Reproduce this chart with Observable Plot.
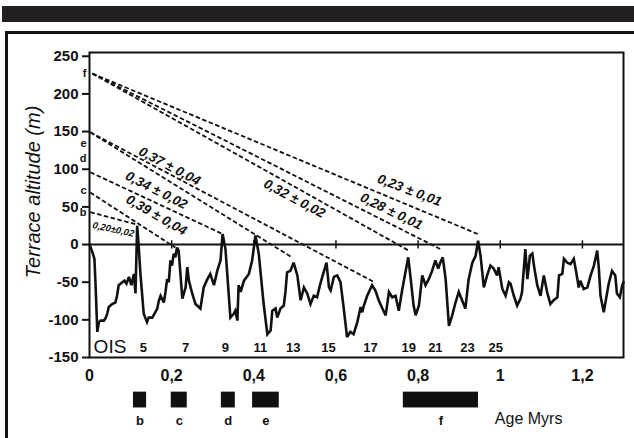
<!DOCTYPE html>
<html><head><meta charset="utf-8">
<script src="https://cdn.jsdelivr.net/npm/d3@7"></script>
<script src="https://cdn.jsdelivr.net/npm/@observablehq/plot@0.6"></script>
<style>
html,body{margin:0;padding:0;background:#fff;}
#wrap{position:relative;width:634px;height:438px;overflow:hidden;background:#fff;}
#bar{position:absolute;left:2px;top:6px;width:632px;height:16px;background:#231f20;}
#box{position:absolute;left:5px;top:31px;width:700px;height:500px;border-left:3px solid #111;border-top:3px solid #111;}
#chart{position:absolute;left:0;top:0;}
</style></head>
<body><div id="wrap"><div id="bar"></div><div id="box"></div><div id="chart"></div></div>
<script>
// Sea-level curve (age in Myr, level in m)
const seaT = [0,0.007,0.012,0.015,0.019,0.023,0.027,0.035,0.039,0.043,0.047,0.055,0.063,0.067,0.071,0.080,0.085,0.090,0.096,0.102,0.108,0.112,0.116,0.120,0.124,0.132,0.140,0.144,0.153,0.165,0.169,0.173,0.181,0.185,0.189,0.193,0.197,0.201,0.205,0.209,0.213,0.217,0.226,0.234,0.238,0.242,0.250,0.258,0.270,0.278,0.287,0.294,0.303,0.311,0.319,0.324,0.331,0.343,0.351,0.355,0.360,0.363,0.368,0.376,0.388,0.396,0.404,0.412,0.424,0.433,0.441,0.445,0.453,0.457,0.465,0.473,0.477,0.481,0.489,0.497,0.506,0.514,0.522,0.530,0.538,0.546,0.554,0.562,0.570,0.577,0.583,0.587,0.595,0.603,0.611,0.619,0.627,0.635,0.643,0.652,0.660,0.664,0.668,0.676,0.688,0.696,0.704,0.713,0.721,0.729,0.737,0.745,0.753,0.761,0.769,0.776,0.781,0.789,0.794,0.802,0.810,0.818,0.826,0.834,0.842,0.849,0.854,0.860,0.867,0.875,0.883,0.891,0.899,0.907,0.915,0.923,0.932,0.940,0.946,0.952,0.960,0.968,0.976,0.984,0.992,0.996,1.005,1.013,1.021,1.025,1.033,1.041,1.049,1.053,1.061,1.066,1.069,1.072,1.078,1.082,1.090,1.098,1.106,1.114,1.122,1.130,1.139,1.143,1.151,1.155,1.163,1.171,1.179,1.185,1.191,1.195,1.203,1.212,1.220,1.228,1.236,1.240,1.244,1.252,1.256,1.264,1.272,1.280,1.284,1.291,1.297,1.300];
const seaV = [0,-10,-19,-57,-116,-103,-101,-101,-98,-92,-83,-79,-77,-68,-54,-50,-48,-52,-43,-54,-39,-65,25,-4,-39,-92,-103,-97,-97,-85,-74,-68,-77,-63,-46,-50,-21,-28,-12,-17,-4,-8,-72,-57,-30,-48,-65,-79,-85,-57,-46,-39,-54,-35,-21,14,-6,-97,-92,-88,-101,-54,-63,-48,-39,-21,12,-12,-79,-119,-114,-88,-85,-97,-85,-81,-63,-37,-35,-24,-41,-74,-57,-65,-79,-68,-70,-52,-37,-24,-57,-61,-43,-41,-50,-85,-123,-116,-119,-103,-83,-90,-81,-68,-54,-61,-74,-85,-94,-63,-70,-68,-88,-61,-37,-17,-41,-81,-94,-81,-41,-54,-46,-35,-21,-32,-24,-17,-46,-108,-94,-77,-63,-74,-85,-46,-24,-15,5,-15,-57,-41,-28,-32,-41,-30,-59,-68,-50,-52,-68,-81,-72,-63,-6,-46,-32,-15,-12,-28,-54,-68,-41,-63,-79,-74,-70,-41,-39,-19,-24,-26,-19,-37,-57,-48,-59,-57,-41,-28,-8,-32,-68,-90,-77,-52,-35,-41,-65,-70,-54,-50];

// Terrace uplift lines (start / end)
const lineT0 = [0.007,0.007,0.007,0.002,0.002,0.002,0.002,0.002];
const lineV0 = [227,227,227,149,149,96,69,43];
const lineT1 = [0.945,0.854,0.777,0.493,0.690,0.324,0.209,0.112];
const lineV1 = [14,-6,-8,-17,-49,14,-4,27];

// Uplift-rate labels
const rateText = ["0,23 ± 0,01","0,28 ± 0,01","0,32 ± 0,02","0,37 ± 0,04","0,34 ± 0,02","0,39 ± 0,04","0,20±0,02"];
const rateT = [0.779,0.735,0.499,0.195,0.163,0.163,0.058];
const rateV = [72,44,61,104,72,39,20];
const rateAngle = [21,26,28,28,27,30,12];

// Terrace letters at the altitude axis
const terrName = ["f","e","d","c","b"];
const terrV = [227,134,114,72,42];

// OIS stages
const oisName = ["5","7","9","11","13","15","17","19","21","23","25"];
const oisT = [0.131,0.234,0.331,0.416,0.496,0.582,0.684,0.777,0.842,0.920,0.989];

// Age ranges of terraces
const ageName = ["b","c","d","e","f"];
const ageT0 = [0.107,0.199,0.321,0.397,0.764];
const ageT1 = [0.139,0.238,0.355,0.462,0.947];

const xTicks = [0,0.2,0.4,0.6,0.8,1,1.2];
const yTicks = [-150,-100,-50,0,50,100,150,200,250];

const sea = seaT.map((t,i)=>({t, v: seaV[i]}));
const lines = lineT0.map((t,i)=>({t0:t, v0:lineV0[i], t1:lineT1[i], v1:lineV1[i]}));
const rates = rateText.map((s,i)=>({s, t:rateT[i], v:rateV[i], a:rateAngle[i], small: i===6}));
const terr = terrName.map((s,i)=>({s, v:terrV[i]}));
const ois = oisName.map((s,i)=>({s, t:oisT[i]}));
const ages = ageName.map((s,i)=>({s, t0:ageT0[i], t1:ageT1[i], tm:(ageT0[i]+ageT1[i])/2}));

const F = "'Liberation Sans', Arial, Helvetica, sans-serif";
const fmtX = d => String(d).replace(".", ",");

const plot = Plot.plot({
  width: 634, height: 438,
  marginLeft: 89, marginRight: 11, marginTop: 52, marginBottom: 81,
  x: {domain: [0, 1.3]},
  y: {domain: [-150, 255]},
  style: {fontFamily: F, fontSize: "15px", fontWeight: "bold", color: "#111", background: "transparent", overflow: "visible"},
  marks: [
    Plot.axisY({ticks: yTicks, tickSize: 7, tickPadding: 4, tickFormat: d => String(d), label: null, fontSize: 15, fontWeight: "bold", strokeWidth: 2}),
    Plot.axisX({ticks: xTicks, tickSize: 0, tickPadding: 12, tickFormat: fmtX, label: null, fontSize: 16, fontWeight: "bold"}),
    Plot.frame({stroke: "#111", strokeWidth: 2}),
    Plot.ruleY([0], {stroke: "#111", strokeWidth: 2}),
    Plot.ruleX(xTicks.slice(1), {y1: -6, y2: 5, stroke: "#111", strokeWidth: 1.5}),
    Plot.link(lines, {x1: "t0", y1: "v0", x2: "t1", y2: "v1", stroke: "#111", strokeWidth: 1.8, strokeDasharray: "4.5,2.5"}),
    Plot.line(sea, {x: "t", y: "v", stroke: "#111", strokeWidth: 2.6, strokeLinejoin: "miter", strokeMiterlimit: 3}),
    Plot.text(rates.filter(d=>!d.small), {x: "t", y: "v", text: "s", rotate: "a", fontSize: 13.5, fontWeight: "bold", fontStyle: "italic", fill: "#111"}),
    Plot.text(rates.filter(d=>d.small), {x: "t", y: "v", text: "s", rotate: "a", fontSize: 9.5, fontWeight: "bold", fontStyle: "italic", fill: "#111"}),
    Plot.text(terr, {x: 0, y: "v", text: "s", dx: -3, textAnchor: "end", fontSize: 11, fontWeight: "bold", fill: "#111"}),
    Plot.text(ois, {x: "t", y: -137, text: "s", fontSize: 13, fontWeight: "bold", fill: "#111"}),
    Plot.text(["OIS"], {x: 0.01, y: -136, text: d => d, textAnchor: "start", fontSize: 19, fontWeight: "normal", fill: "#111"}),
    Plot.rect(ages, {x1: "t0", x2: "t1", y1: -196, y2: -217, fill: "#111"}),
    Plot.text(ages, {x: "tm", y: -234, text: "s", fontSize: 13, fontWeight: "bold", fill: "#111"}),
    Plot.text(["Age Myrs"], {x: 1.069, y: -231, text: d => d, fontSize: 16, fontWeight: "normal", fill: "#111"}),
    Plot.text(["Terrace altitude (m)"], {frameAnchor: "left", text: d => d, rotate: -90, textAnchor: "middle", dx: -56, dy: -13, fontSize: 20, fontWeight: "normal", fontStyle: "italic", fill: "#111"})
  ]
});
document.getElementById("chart").appendChild(plot);
</script></body></html>
